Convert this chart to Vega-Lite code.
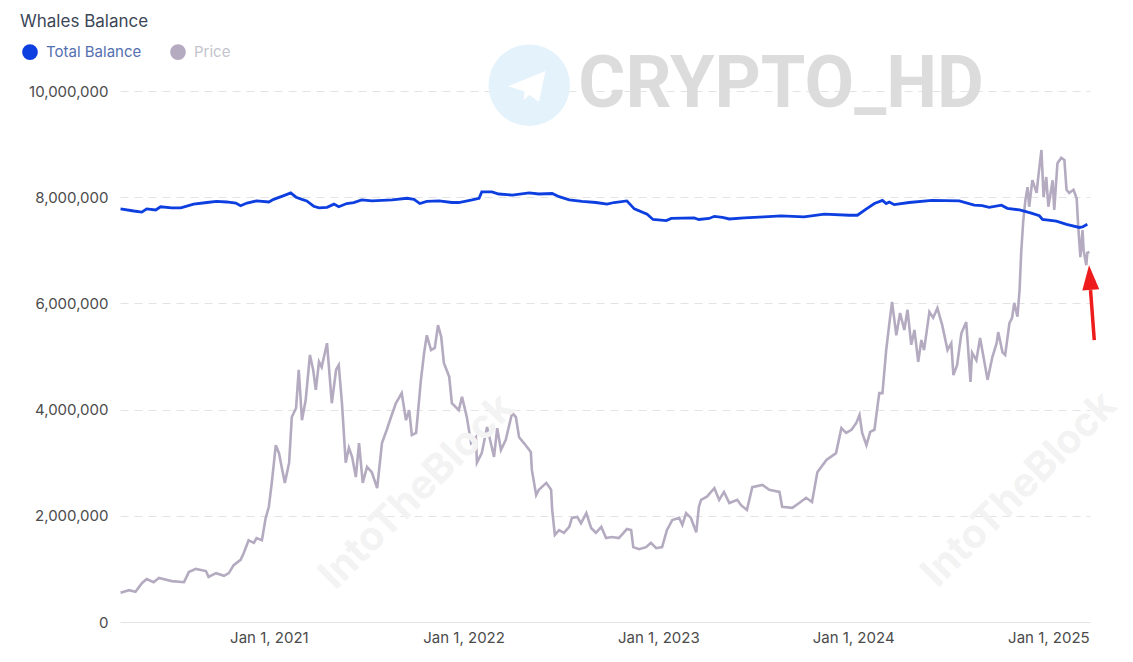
{
  "$schema": "https://vega.github.io/schema/vega-lite/v6.json",
  "width": 970,
  "height": 531,
  "autosize": {"type": "none"},
  "padding": {"left": 120, "top": 91, "right": 43, "bottom": 40},
  "background": "white",
  "config": {
    "view": {"stroke": null},
    "font": "Inter",
    "axisX": {"labelFontSize": 15, "labelColor": "#4b4b4b", "labelPadding": 8, "ticks": false, "domain": false, "grid": false, "labelFont": "Inter"},
    "axisY": {"labelFontSize": 15, "labelColor": "#4b4b4b", "labelPadding": 12, "ticks": false, "domain": false, "labelFont": "Inter"}
  },
  "title": {"text": "Whales Balance", "anchor": "start", "frame": "group", "dx": -100, "offset": 13, "fontSize": 17, "fontWeight": 400, "color": "#3c4657", "font": "Inter"},
  "datasets": {
    "price": [
      {"date":"2020-03-29","price":6600},{"date":"2020-04-14","price":7200},{"date":"2020-04-26","price":6850},{"date":"2020-05-08","price":8760},{"date":"2020-05-17","price":9720},{"date":"2020-05-30","price":9000},{"date":"2020-06-09","price":9960},{"date":"2020-07-03","price":9240},{"date":"2020-07-26","price":9000},{"date":"2020-08-04","price":11280},{"date":"2020-08-17","price":12000},{"date":"2020-09-05","price":11520},{"date":"2020-09-10","price":10200},{"date":"2020-09-24","price":11040},{"date":"2020-10-09","price":10440},{"date":"2020-10-18","price":11040},{"date":"2020-10-27","price":12840},{"date":"2020-11-09","price":14040},{"date":"2020-11-15","price":15600},{"date":"2020-11-24","price":18480},{"date":"2020-12-04","price":17880},{"date":"2020-12-09","price":18960},{"date":"2020-12-19","price":18480},{"date":"2020-12-26","price":23520},
      {"date":"2021-01-01","price":26040},{"date":"2021-01-07","price":32040},{"date":"2021-01-14","price":39960},{"date":"2021-01-20","price":38160},{"date":"2021-01-25","price":35040},{"date":"2021-01-31","price":31440},{"date":"2021-02-08","price":36000},{"date":"2021-02-13","price":46320},{"date":"2021-02-21","price":48360},{"date":"2021-02-26","price":57000},{"date":"2021-03-04","price":45600},{"date":"2021-03-11","price":50160},{"date":"2021-03-19","price":60360},{"date":"2021-03-25","price":57000},{"date":"2021-03-30","price":52440},{"date":"2021-04-05","price":58800},{"date":"2021-04-10","price":57600},{"date":"2021-04-20","price":63000},{"date":"2021-04-29","price":49440},{"date":"2021-05-07","price":57000},{"date":"2021-05-12","price":58080},{"date":"2021-05-18","price":49440},{"date":"2021-05-25","price":36000},{"date":"2021-05-31","price":39360},{"date":"2021-06-06","price":37320},{"date":"2021-06-13","price":32760},{"date":"2021-06-19","price":40440},{"date":"2021-06-26","price":31440},{"date":"2021-07-04","price":35040},{"date":"2021-07-13","price":33840},{"date":"2021-07-23","price":30240},{"date":"2021-08-01","price":40440},{"date":"2021-08-10","price":43440},{"date":"2021-08-18","price":46320},{"date":"2021-08-27","price":49440},{"date":"2021-09-07","price":51720},{"date":"2021-09-15","price":45600},{"date":"2021-09-21","price":47880},{"date":"2021-09-26","price":42240},{"date":"2021-10-04","price":42720},{"date":"2021-10-13","price":54720},{"date":"2021-10-19","price":60840},{"date":"2021-10-24","price":64800},{"date":"2021-11-01","price":61440},{"date":"2021-11-08","price":61920},{"date":"2021-11-14","price":67080},{"date":"2021-11-20","price":64440},{"date":"2021-11-25","price":58560},{"date":"2021-12-05","price":55440},{"date":"2021-12-10","price":49440},{"date":"2021-12-23","price":47880},{"date":"2021-12-29","price":50880},
      {"date":"2022-01-07","price":46320},{"date":"2022-01-15","price":40440},{"date":"2022-01-24","price":41760},{"date":"2022-01-26","price":36000},{"date":"2022-02-04","price":38160},{"date":"2022-02-14","price":44040},{"date":"2022-02-21","price":40440},{"date":"2022-02-27","price":37320},{"date":"2022-03-05","price":43800},{"date":"2022-03-12","price":38880},{"date":"2022-03-21","price":41160},{"date":"2022-04-02","price":47280},{"date":"2022-04-09","price":46320},{"date":"2022-04-15","price":41760},{"date":"2022-04-24","price":40440},{"date":"2022-05-07","price":38400},{"date":"2022-05-09","price":34320},{"date":"2022-05-17","price":28680},{"date":"2022-05-22","price":29880},{"date":"2022-06-05","price":31440},{"date":"2022-06-14","price":29880},{"date":"2022-06-16","price":25320},{"date":"2022-06-21","price":19680},{"date":"2022-06-29","price":20760},{"date":"2022-07-08","price":20160},{"date":"2022-07-18","price":21480},{"date":"2022-07-23","price":23520},{"date":"2022-08-02","price":23760},{"date":"2022-08-09","price":22320},{"date":"2022-08-19","price":24600},{"date":"2022-08-28","price":21240},{"date":"2022-09-06","price":20160},{"date":"2022-09-16","price":21480},{"date":"2022-09-25","price":18960},{"date":"2022-10-06","price":19200},{"date":"2022-10-19","price":18960},{"date":"2022-11-03","price":21000},{"date":"2022-11-11","price":20760},{"date":"2022-11-15","price":16920},{"date":"2022-11-26","price":16440},{"date":"2022-12-09","price":16920},{"date":"2022-12-18","price":17880},{"date":"2022-12-28","price":16680},
      {"date":"2023-01-08","price":16920},{"date":"2023-01-17","price":20760},{"date":"2023-01-27","price":23040},{"date":"2023-02-09","price":23520},{"date":"2023-02-15","price":21960},{"date":"2023-02-22","price":24600},{"date":"2023-03-03","price":23520},{"date":"2023-03-13","price":20280},{"date":"2023-03-18","price":26040},{"date":"2023-03-22","price":27600},{"date":"2023-04-02","price":28320},{"date":"2023-04-16","price":30240},{"date":"2023-04-25","price":27600},{"date":"2023-05-04","price":29400},{"date":"2023-05-14","price":26880},{"date":"2023-05-29","price":27600},{"date":"2023-06-05","price":26400},{"date":"2023-06-16","price":25320},{"date":"2023-06-26","price":30480},{"date":"2023-07-15","price":30960},{"date":"2023-07-28","price":29880},{"date":"2023-08-16","price":29400},{"date":"2023-08-21","price":26040},{"date":"2023-09-09","price":25800},{"date":"2023-09-22","price":26880},{"date":"2023-10-05","price":28080},{"date":"2023-10-16","price":27120},{"date":"2023-10-26","price":33840},{"date":"2023-11-12","price":36600},{"date":"2023-11-30","price":38160},{"date":"2023-12-10","price":43800},{"date":"2023-12-19","price":42720},{"date":"2023-12-29","price":43440},
      {"date":"2024-01-07","price":45000},{"date":"2024-01-13","price":46800},{"date":"2024-01-18","price":42720},{"date":"2024-01-26","price":39960},{"date":"2024-02-02","price":42960},{"date":"2024-02-10","price":43440},{"date":"2024-02-19","price":51720},{"date":"2024-02-25","price":51720},{"date":"2024-03-03","price":61440},{"date":"2024-03-09","price":67560},{"date":"2024-03-14","price":72360},{"date":"2024-03-22","price":64800},{"date":"2024-03-29","price":69840},{"date":"2024-04-06","price":66000},{"date":"2024-04-12","price":70560},{"date":"2024-04-19","price":62640},{"date":"2024-04-25","price":66000},{"date":"2024-05-02","price":58800},{"date":"2024-05-08","price":63720},{"date":"2024-05-13","price":61440},{"date":"2024-05-23","price":70080},{"date":"2024-05-30","price":68760},{"date":"2024-06-07","price":70920},{"date":"2024-06-16","price":67080},{"date":"2024-06-26","price":61440},{"date":"2024-07-03","price":63000},{"date":"2024-07-07","price":55800},{"date":"2024-07-14","price":58080},{"date":"2024-07-22","price":65280},{"date":"2024-07-31","price":67800},{"date":"2024-08-08","price":54240},{"date":"2024-08-11","price":60840},{"date":"2024-08-19","price":59160},{"date":"2024-08-26","price":64200},{"date":"2024-09-03","price":58800},{"date":"2024-09-09","price":54720},{"date":"2024-09-18","price":59880},{"date":"2024-09-26","price":63000},{"date":"2024-09-29","price":65520},{"date":"2024-10-07","price":60960},{"date":"2024-10-12","price":60360},{"date":"2024-10-20","price":67560},{"date":"2024-10-25","price":68760},{"date":"2024-10-29","price":72120},{"date":"2024-11-04","price":69000},{"date":"2024-11-08","price":75000},{"date":"2024-11-11","price":83400},{"date":"2024-11-15","price":90840},{"date":"2024-11-19","price":95400},{"date":"2024-11-23","price":98280},{"date":"2024-11-26","price":93840},{"date":"2024-12-02","price":99840},{"date":"2024-12-10","price":96960},{"date":"2024-12-13","price":100560},{"date":"2024-12-19","price":106680},{"date":"2024-12-23","price":96000},{"date":"2024-12-28","price":100560},
      {"date":"2025-01-01","price":93840},{"date":"2025-01-09","price":99840},{"date":"2025-01-12","price":93120},{"date":"2025-01-18","price":103680},{"date":"2025-01-25","price":104880},{"date":"2025-01-31","price":104400},{"date":"2025-02-04","price":97680},{"date":"2025-02-09","price":96960},{"date":"2025-02-17","price":97680},{"date":"2025-02-23","price":95760},{"date":"2025-02-26","price":89280},{"date":"2025-03-02","price":82440},{"date":"2025-03-06","price":88560},{"date":"2025-03-08","price":84000},{"date":"2025-03-13","price":80640},{"date":"2025-03-15","price":83400},{"date":"2025-03-19","price":83640}
    ],
    "balance": [
      {"date":"2020-03-29","balance":7780000},{"date":"2020-04-23","balance":7740000},{"date":"2020-05-08","balance":7720000},{"date":"2020-05-17","balance":7780000},{"date":"2020-06-03","balance":7760000},{"date":"2020-06-12","balance":7820000},{"date":"2020-07-03","balance":7800000},{"date":"2020-07-20","balance":7800000},{"date":"2020-08-13","balance":7870000},{"date":"2020-09-07","balance":7900000},{"date":"2020-09-25","balance":7920000},{"date":"2020-10-14","balance":7910000},{"date":"2020-10-31","balance":7890000},{"date":"2020-11-09","balance":7840000},{"date":"2020-11-21","balance":7890000},{"date":"2020-12-09","balance":7930000},
      {"date":"2021-01-01","balance":7910000},{"date":"2021-01-10","balance":7960000},{"date":"2021-01-29","balance":8030000},{"date":"2021-02-11","balance":8080000},{"date":"2021-02-21","balance":8000000},{"date":"2021-03-04","balance":7960000},{"date":"2021-03-13","balance":7930000},{"date":"2021-03-26","balance":7830000},{"date":"2021-04-05","balance":7800000},{"date":"2021-04-20","balance":7810000},{"date":"2021-05-03","balance":7870000},{"date":"2021-05-12","balance":7820000},{"date":"2021-05-27","balance":7880000},{"date":"2021-06-09","balance":7900000},{"date":"2021-06-24","balance":7950000},{"date":"2021-07-13","balance":7930000},{"date":"2021-08-20","balance":7950000},{"date":"2021-09-17","balance":7980000},{"date":"2021-09-30","balance":7960000},{"date":"2021-10-11","balance":7880000},{"date":"2021-10-24","balance":7920000},{"date":"2021-11-16","balance":7930000},{"date":"2021-12-10","balance":7900000},{"date":"2021-12-23","balance":7900000},
      {"date":"2022-01-17","balance":7950000},{"date":"2022-01-30","balance":7980000},{"date":"2022-02-04","balance":8100000},{"date":"2022-02-23","balance":8100000},{"date":"2022-03-08","balance":8060000},{"date":"2022-04-02","balance":8040000},{"date":"2022-05-04","balance":8080000},{"date":"2022-05-22","balance":8060000},{"date":"2022-06-16","balance":8070000},{"date":"2022-06-29","balance":8010000},{"date":"2022-07-18","balance":7950000},{"date":"2022-08-11","balance":7920000},{"date":"2022-09-06","balance":7900000},{"date":"2022-09-27","balance":7870000},{"date":"2022-10-10","balance":7900000},{"date":"2022-11-03","balance":7930000},{"date":"2022-11-17","balance":7780000},{"date":"2022-12-11","balance":7680000},{"date":"2022-12-22","balance":7580000},
      {"date":"2023-01-16","balance":7560000},{"date":"2023-01-25","balance":7600000},{"date":"2023-03-09","balance":7610000},{"date":"2023-03-18","balance":7580000},{"date":"2023-04-06","balance":7600000},{"date":"2023-04-16","balance":7640000},{"date":"2023-05-01","balance":7620000},{"date":"2023-05-14","balance":7590000},{"date":"2023-06-11","balance":7610000},{"date":"2023-07-18","balance":7630000},{"date":"2023-08-19","balance":7650000},{"date":"2023-10-01","balance":7630000},{"date":"2023-11-08","balance":7680000},{"date":"2023-12-25","balance":7660000},
      {"date":"2024-01-09","balance":7660000},{"date":"2024-01-26","balance":7780000},{"date":"2024-02-10","balance":7880000},{"date":"2024-02-25","balance":7940000},{"date":"2024-03-03","balance":7880000},{"date":"2024-03-09","balance":7910000},{"date":"2024-03-18","balance":7860000},{"date":"2024-04-15","balance":7900000},{"date":"2024-05-28","balance":7940000},{"date":"2024-07-18","balance":7930000},{"date":"2024-08-15","balance":7850000},{"date":"2024-08-30","balance":7840000},{"date":"2024-09-12","balance":7810000},{"date":"2024-10-05","balance":7850000},{"date":"2024-10-16","balance":7790000},{"date":"2024-11-08","balance":7760000},{"date":"2024-11-30","balance":7700000},{"date":"2024-12-15","balance":7650000},{"date":"2024-12-21","balance":7580000},
      {"date":"2025-01-16","balance":7550000},{"date":"2025-02-04","balance":7490000},{"date":"2025-02-28","balance":7430000},{"date":"2025-03-06","balance":7440000},{"date":"2025-03-15","balance":7490000}
    ]
  },
  "layer": [
    {
      "data": {"name": "price"},
      "mark": {"type": "line", "strokeWidth": 2.6},
      "encoding": {
        "x": {"field": "date", "type": "temporal", "scale": {"domain": [{"year": 2020, "month": 3, "date": 28}, {"year": 2025, "month": 3, "date": 20}]},
              "axis": {"title": null, "values": [{"year": 2021, "month": 1, "date": 1}, {"year": 2022, "month": 1, "date": 1}, {"year": 2023, "month": 1, "date": 1}, {"year": 2024, "month": 1, "date": 1}, {"year": 2025, "month": 1, "date": 1}], "format": "%b %-d, %Y"}},
        "y": {"field": "price", "type": "quantitative", "scale": {"domain": [0, 120000]}, "axis": null},
        "color": {"datum": "Price", "type": "nominal",
                  "scale": {"domain": ["Total Balance", "Price"], "range": ["#0d3fe0", "#b4abc1"]},
                  "legend": {"title": null, "orient": "none", "legendX": -98, "legendY": -47, "direction": "horizontal", "symbolType": "circle", "symbolSize": 60, "symbolStrokeWidth": 8, "labelFontSize": 15, "labelFont": "Inter", "labelColor": {"expr": "datum.label === 'Price' ? '#c4c4cc' : '#5470b0'"}, "columnPadding": 16, "labelOffset": 8}}
      }
    },
    {
      "layer": [
        {
          "data": {"values": [{}]},
          "mark": {"type": "point", "shape": "circle", "filled": true, "opacity": 1, "color": "#e4f2fc", "size": 6650},
          "encoding": {
            "x": {"datum": {"year": 2022, "month": 5, "date": 4}, "type": "temporal"},
            "y": {"datum": 10110000, "type": "quantitative"}
          }
        },
        {
          "data": {"values": [{}]},
          "mark": {"type": "point", "shape": "M-0.6,0.02L0.55,-0.45L0.35,0.5L0.05,0.28L-0.12,0.45L-0.1,0.18Z", "filled": true, "opacity": 1, "color": "#ffffff", "size": 4200},
          "encoding": {
            "x": {"datum": {"year": 2022, "month": 5, "date": 1}, "type": "temporal"},
            "y": {"datum": 10100000, "type": "quantitative"}
          }
        },
        {
          "data": {"values": [{}]},
          "mark": {"type": "text", "text": "CRYPTO_HD", "font": "Roboto", "fontWeight": "bold", "fontSize": 72, "color": "#dcdcdc", "align": "center", "baseline": "middle"},
          "encoding": {
            "x": {"datum": {"year": 2023, "month": 8, "date": 19}, "type": "temporal"},
            "y": {"datum": 10110000, "type": "quantitative"}
          }
        },
        {
          "data": {"values": [{}]},
          "mark": {"type": "text", "text": "IntoTheBlock", "font": "Inter", "fontWeight": "bold", "fontSize": 40, "color": "#f3f3f3", "align": "center", "baseline": "middle", "angle": -45},
          "encoding": {
            "x": {"datum": {"year": 2021, "month": 10, "date": 6}, "type": "temporal"},
            "y": {"datum": 2450000, "type": "quantitative"}
          }
        },
        {
          "data": {"values": [{}]},
          "mark": {"type": "text", "text": "IntoTheBlock", "font": "Inter", "fontWeight": "bold", "fontSize": 40, "color": "#f3f3f3", "align": "center", "baseline": "middle", "angle": -45},
          "encoding": {
            "x": {"datum": {"year": 2024, "month": 11, "date": 8}, "type": "temporal"},
            "y": {"datum": 2490000, "type": "quantitative"}
          }
        },
        {
          "data": {"name": "balance"},
          "mark": {"type": "line", "strokeWidth": 2.8},
          "encoding": {
            "x": {"field": "date", "type": "temporal", "scale": {"domain": [{"year": 2020, "month": 3, "date": 28}, {"year": 2025, "month": 3, "date": 20}]},
                  "axis": {"title": null, "values": [{"year": 2021, "month": 1, "date": 1}, {"year": 2022, "month": 1, "date": 1}, {"year": 2023, "month": 1, "date": 1}, {"year": 2024, "month": 1, "date": 1}, {"year": 2025, "month": 1, "date": 1}], "format": "%b %-d, %Y"}},
            "y": {"field": "balance", "type": "quantitative", "scale": {"domain": [0, 10000000]},
                  "axis": {"title": null, "values": [0, 2000000, 4000000, 6000000, 8000000, 10000000], "format": ",d", "grid": true, "gridColor": "#e3e3e3", "gridWidth": 1, "gridDash": {"condition": {"test": "datum.value === 0", "value": []}, "value": [8, 6]}}},
            "color": {"datum": "Total Balance", "type": "nominal",
                      "scale": {"domain": ["Total Balance", "Price"], "range": ["#0d3fe0", "#b4abc1"]},
                      "legend": {"title": null, "orient": "none", "legendX": -98, "legendY": -47, "direction": "horizontal", "symbolType": "circle", "symbolSize": 60, "symbolStrokeWidth": 8, "labelFontSize": 15, "labelFont": "Inter", "labelColor": {"expr": "datum.label === 'Price' ? '#c4c4cc' : '#5470b0'"}, "columnPadding": 16, "labelOffset": 8}}
          }
        },
        {
          "data": {"values": [{}]},
          "mark": {"type": "rule", "color": "#ee1c1c", "strokeWidth": 3.5},
          "encoding": {
            "x": {"datum": {"year": 2025, "month": 3, "date": 28}, "type": "temporal"},
            "y": {"datum": 5310000, "type": "quantitative"},
            "x2": {"datum": {"year": 2025, "month": 3, "date": 21}},
            "y2": {"datum": 6250000}
          }
        },
        {
          "data": {"values": [{}]},
          "mark": {"type": "point", "shape": "M0,-1L0.62,0.8L-0.62,0.8Z", "filled": true, "opacity": 1, "color": "#ee1c1c", "size": 750, "angle": -4},
          "encoding": {
            "x": {"datum": {"year": 2025, "month": 3, "date": 20}, "type": "temporal"},
            "y": {"datum": 6460000, "type": "quantitative"}
          }
        }
      ]
    }
  ],
  "resolve": {"scale": {"y": "independent"}}
}
